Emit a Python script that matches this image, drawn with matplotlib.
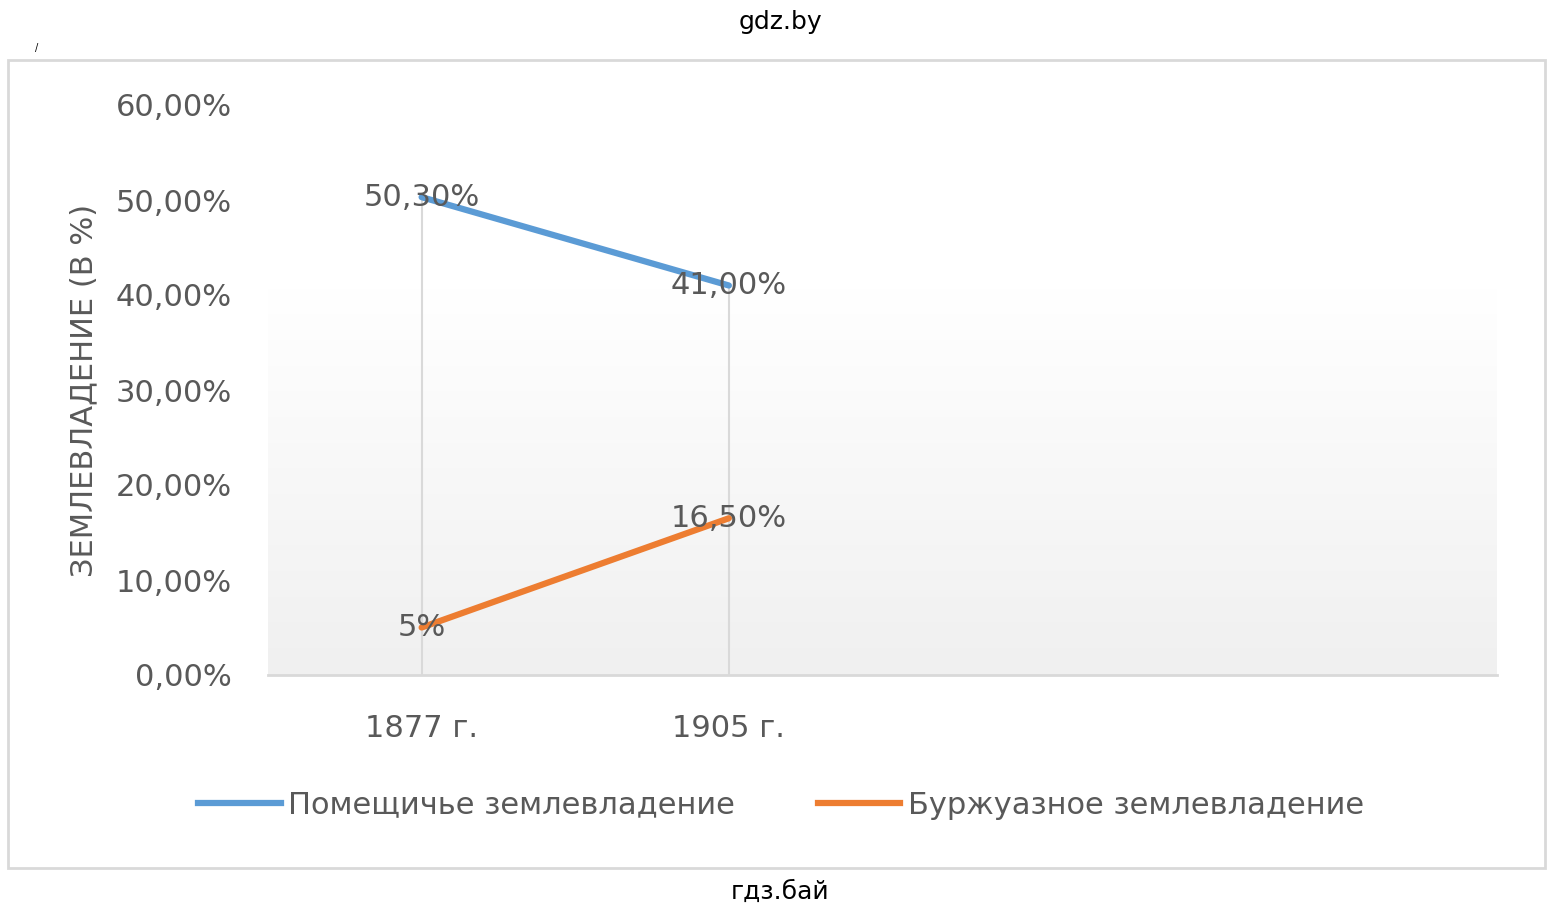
import matplotlib
matplotlib.use("Agg")
import matplotlib.pyplot as plt
import numpy as np
from matplotlib.patches import Rectangle
from matplotlib.lines import Line2D
from matplotlib.colors import LinearSegmentedColormap

categories = ['1877 г.', '1905 г.', '', '']
landlord = [50.3, 41.0]
bourgeois = [5.0, 16.5]
landlord_labels = ['50,30%', '41,00%']
bourgeois_labels = ['5%', '16,50%']
series_names = ['Помещичье землевладение', 'Буржуазное землевладение']
yticks = [0, 10, 20, 30, 40, 50, 60]

plt.rcParams['font.family'] = ['DejaVu Sans']
txt = '#595959'
blue = '#5B9BD5'
orange = '#ED7D31'

fig = plt.figure(figsize=(15.61, 9.17), dpi=100)
W, H = 1561, 917

# рамка диаграммы
fig.patches.append(Rectangle((8 / W, 1 - 868 / H), 1537 / W, 808 / H,
                             transform=fig.transFigure, fill=False,
                             edgecolor='#d9d9d9', lw=2))
fig.text(780 / W, 1 - 22 / H, 'gdz.by', ha='center', va='center', fontsize=18, color='black')
fig.text(780 / W, 1 - 892 / H, 'гдз.бай', ha='center', va='center', fontsize=18, color='black')
fig.text(37 / W, 1 - 48 / H, '/', ha='center', va='center', fontsize=7, color='black')

ax = fig.add_axes([268 / W, 1 - 675 / H, 1229 / W, 570 / H])
ax.set_xlim(-0.5, len(categories) - 0.5)
ax.set_ylim(0, 60)

# фон с градиентом
g = np.linspace(0, 1, 200).reshape(-1, 1)
grad = np.clip(g / 0.68, 0, 1)
cmap = LinearSegmentedColormap.from_list('bg', ['#f0f0f0', '#ffffff'])
ax.imshow(grad, extent=[-0.5, len(categories) - 0.5, 0, 60], aspect='auto',
          cmap=cmap, origin='lower', zorder=0, vmin=0, vmax=1)

x = np.arange(len(landlord))
for i in x:
    ax.plot([i, i], [0, max(landlord[i], bourgeois[i])], color='#d9d9d9', lw=1.5, zorder=1)

ax.plot(x, landlord, color=blue, lw=4.5, solid_capstyle='round', zorder=3)
ax.plot(x, bourgeois, color=orange, lw=4.5, solid_capstyle='round', zorder=3)
for i in x:
    ax.text(i, landlord[i], landlord_labels[i], ha='center', va='center',
            fontsize=22, color=txt, zorder=4)
    ax.text(i, bourgeois[i], bourgeois_labels[i], ha='center', va='center',
            fontsize=22, color=txt, zorder=4)

for s in ['top', 'right', 'left']:
    ax.spines[s].set_visible(False)
ax.spines['bottom'].set_color('#d9d9d9')
ax.spines['bottom'].set_linewidth(2)
ax.set_yticks(yticks)
ax.set_yticklabels([f'{v},00%' for v in yticks])
ax.set_xticks(range(len(categories)))
ax.set_xticklabels(categories)
ax.tick_params(axis='both', length=0, labelsize=22, colors=txt)
ax.tick_params(axis='y', pad=26)
ax.tick_params(axis='x', pad=28)
ax.set_ylabel('ЗЕМЛЕВЛАДЕНИЕ (В %)', fontsize=22, color=txt)
ax.yaxis.set_label_coords(-170 / 1229, 0.5)

handles = [Line2D([], [], color=blue, lw=4.5), Line2D([], [], color=orange, lw=4.5)]
fig.legend(handles, series_names, loc='center', bbox_to_anchor=(781 / W, 1 - 805 / H),
           ncol=2, frameon=False, fontsize=22, labelcolor=txt, handlelength=2.7,
           handletextpad=0.25, columnspacing=2.7)

fig.savefig('out.png', dpi=100)
